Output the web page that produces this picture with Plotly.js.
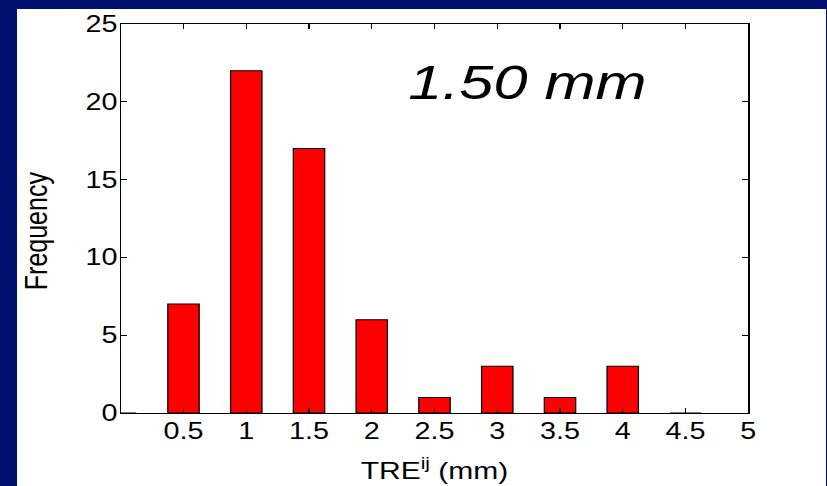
<!DOCTYPE html>
<html>
<head>
<meta charset="utf-8">
<script src="https://cdn.plot.ly/plotly-3.0.1.min.js"></script>
<style>
  html, body { margin: 0; padding: 0; width: 827px; height: 486px; overflow: hidden; background: #00106e; }
  #frame { position: absolute; left: 17px; top: 9px; width: 809px; height: 477px; background: #ffffff; overflow: hidden; }
  /* the reference figure is stretched horizontally by about 1.25 */
  #chart { position: absolute; left: 0; top: 0; width: 647px; height: 477px; transform: scaleX(1.25); transform-origin: 0 0; }
</style>
</head>
<body>
<div id="frame"><div id="chart"></div></div>
<script>
// Histogram of TRE^ij values
const binCenters = [0, 0.5, 1, 1.5, 2, 2.5, 3, 3.5, 4, 4.5];
const frequency  = [0, 7, 22, 17, 6, 1, 3, 1, 3, 0];
const xTickVals  = [0.5, 1, 1.5, 2, 2.5, 3, 3.5, 4, 4.5, 5];
const xTickText  = ["0.5", "1", "1.5", "2", "2.5", "3", "3.5", "4", "4.5", "5"];
const yTickVals  = [0, 5, 10, 15, 20, 25];
const annotationText = "1.50 mm";
const xTitle = "TRE<sup>ij</sup> (mm)";
const yTitle = "Frequency";

const font = "Liberation Sans, Arial, sans-serif";

const trace = {
  type: "bar",
  x: binCenters,
  y: frequency,
  width: 0.25,
  marker: { color: "#ff0000", line: { color: "#000000", width: 1 } },
  hoverinfo: "skip"
};

const layout = {
  width: 647, height: 477,
  margin: { l: 83, r: 62, t: 15, b: 73 },
  paper_bgcolor: "#ffffff",
  plot_bgcolor: "#ffffff",
  showlegend: false,
  font: { family: font, color: "#000000", size: 23 },
  xaxis: {
    range: [0, 5],
    tickvals: xTickVals,
    ticktext: xTickText,
    ticks: "inside", ticklen: 5, tickcolor: "#000",
    ticklabelstandoff: -3,
    showline: true, linecolor: "#000", linewidth: 1, mirror: "ticks",
    showgrid: false, zeroline: false,
    tickfont: { family: font, size: 23 },
    title: { text: xTitle, font: { family: font, size: 24 }, standoff: 19 }
  },
  yaxis: {
    range: [0, 25],
    tickvals: yTickVals,
    ticks: "inside", ticklen: 5, tickcolor: "#000",
    ticklabelstandoff: -3,
    showline: true, linecolor: "#000", linewidth: 1, mirror: "ticks",
    showgrid: false, zeroline: false,
    tickfont: { family: font, size: 23 }
  },
  annotations: [{
    xref: "paper", yref: "paper",
    x: 0.649, y: 0.851,
    xanchor: "center", yanchor: "middle",
    showarrow: false,
    text: "<i>" + annotationText + "</i>",
    font: { family: font, size: 49, color: "#000" }
  }, {
    xref: "paper", yref: "paper",
    x: -0.135, y: 0.468,
    xanchor: "center", yanchor: "middle",
    showarrow: false,
    textangle: -90,
    text: yTitle,
    font: { family: font, size: 25, color: "#000" }
  }]
};

Plotly.newPlot("chart", [trace], layout, { displayModeBar: false, staticPlot: true });
</script>
</body>
</html>
